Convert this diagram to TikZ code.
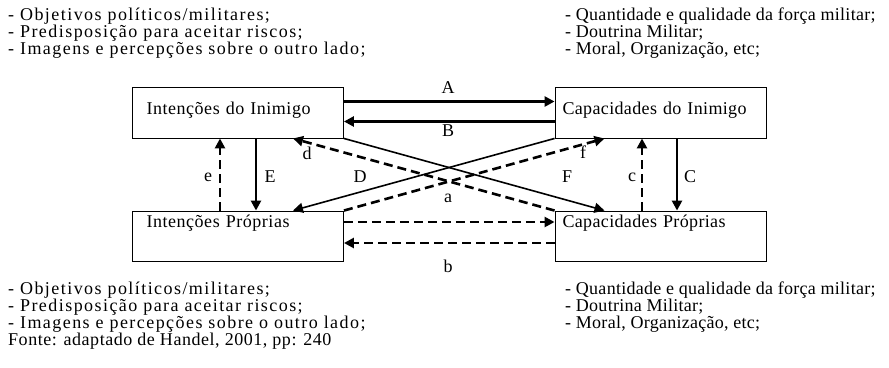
\documentclass[tikz,border=0pt]{standalone}
\usepackage{fontspec}
\setmainfont{Liberation Serif}
\usepackage{tikz}
\usetikzlibrary{arrows.meta}
\newcommand\fnt{\fontsize{18}{17}\selectfont}
\tikzset{
  ar/.style={-{Triangle[length=10pt,width=10pt]},line width=2.6pt},
  thinar/.style={-{Triangle[length=10pt,width=10pt]},line width=1.6pt},
  dar/.style={ar,dash pattern=on 9pt off 5pt},
  box/.style={draw,line width=0.9pt,minimum width=211pt,inner ysep=4pt,align=left},
  lbox/.style={box,inner xsep=14pt,text width=183pt,font=\fnt\addfontfeature{LetterSpace=3}},
  rbox/.style={box,inner xsep=7.5pt,text width=196pt,font=\fnt\addfontfeature{LetterSpace=2}},
  lbl/.style={font=\fnt},
  txt/.style={font=\fnt\addfontfeature{LetterSpace=1.5},align=left,inner sep=0pt,anchor=north west},
  ltxt/.style={txt,font=\fnt\addfontfeature{LetterSpace=8}}
}
\begin{document}
\begin{tikzpicture}[x=1pt,y=-1pt]
\useasboundingbox (0,0) rectangle (889,367);
\fill[white] (0,0) rectangle (889,367);
% caixas
\node[lbox,text height=23pt,text depth=20pt] (ii) at (238,112.5) {Intenções do Inimigo};
\node[rbox,text height=23pt,text depth=20pt] (ci) at (660.5,112.5) {Capacidades do Inimigo};
\node[lbox,text height=12pt,text depth=30pt] (ip) at (238,236) {Intenções Próprias};
\node[rbox,text height=12pt,text depth=30pt] (cp) at (660.5,236) {Capacidades Próprias};
% textos
\node[ltxt] (t1) at (8,7.5) {- Objetivos políticos/militares;\\- Predisposição para aceitar riscos;\\- Imagens e percepções sobre o outro lado;};
\node[txt] (t2) at (565,7.5) {- Quantidade e qualidade da força militar;\\- Doutrina Militar;\\- Moral, Organização, etc;};
\node[ltxt] (t3) at (8,282) {- Objetivos políticos/militares;\\- Predisposição para aceitar riscos;\\- Imagens e percepções sobre o outro lado;\\{\addfontfeature{LetterSpace=3}Fonte: adaptado de Handel, 2001, pp: 240}};
\node[txt] (t4) at (565,282) {- Quantidade e qualidade da força militar;\\- Doutrina Militar;\\- Moral, Organização, etc;};
% setas
\draw[ar] ([yshift=11pt]ii.east) -- ([yshift=11pt]ci.west);
\draw[ar] ([yshift=-9pt]ci.west) -- ([yshift=-9pt]ii.east);
\draw[ar] ([xshift=18pt]ii.south) -- ([xshift=18pt]ip.north);
\draw[dar] ([xshift=-18pt]ip.north) -- ([xshift=-18pt]ii.south);
\draw[ar] ([xshift=16.5pt]ci.south) -- ([xshift=16.5pt]cp.north);
\draw[dar] ([xshift=-18.5pt]cp.north) -- ([xshift=-18.5pt]ci.south);
\draw[thinar] (ci.south west) -- ([xshift=55pt]ip.north);
\draw[thinar] (ii.south east) -- ([xshift=-56pt]cp.north);
\draw[dar] (cp.north west) -- ([xshift=55pt]ii.south);
\draw[dar] (ip.north east) -- ([xshift=-56pt]ci.south);
\draw[dar] ([yshift=14pt]ip.east) -- ([yshift=14pt]cp.west);
\draw[dar] ([yshift=-7pt]cp.west) -- ([yshift=-7pt]ip.east);
% rotulos
\node[lbl] (la) at (448,88) {A};
\node[lbl] (lb) at (448,131) {B};
\node[lbl] (le) at (270,177) {E};
\node[lbl] (lee) at (208,177) {e};
\node[lbl] (lc) at (690,177) {C};
\node[lbl] (lcc) at (632,177) {c};
\node[lbl] (ld) at (360,177) {D};
\node[lbl] (lf) at (567,177) {F};
\node[lbl] (ldd) at (307,153) {d};
\node[lbl] (lff) at (583,152) {f};
\node[lbl] (laa) at (448,198) {a};
\node[lbl] (lbb) at (448,266) {b};
\end{tikzpicture}
\end{document}
